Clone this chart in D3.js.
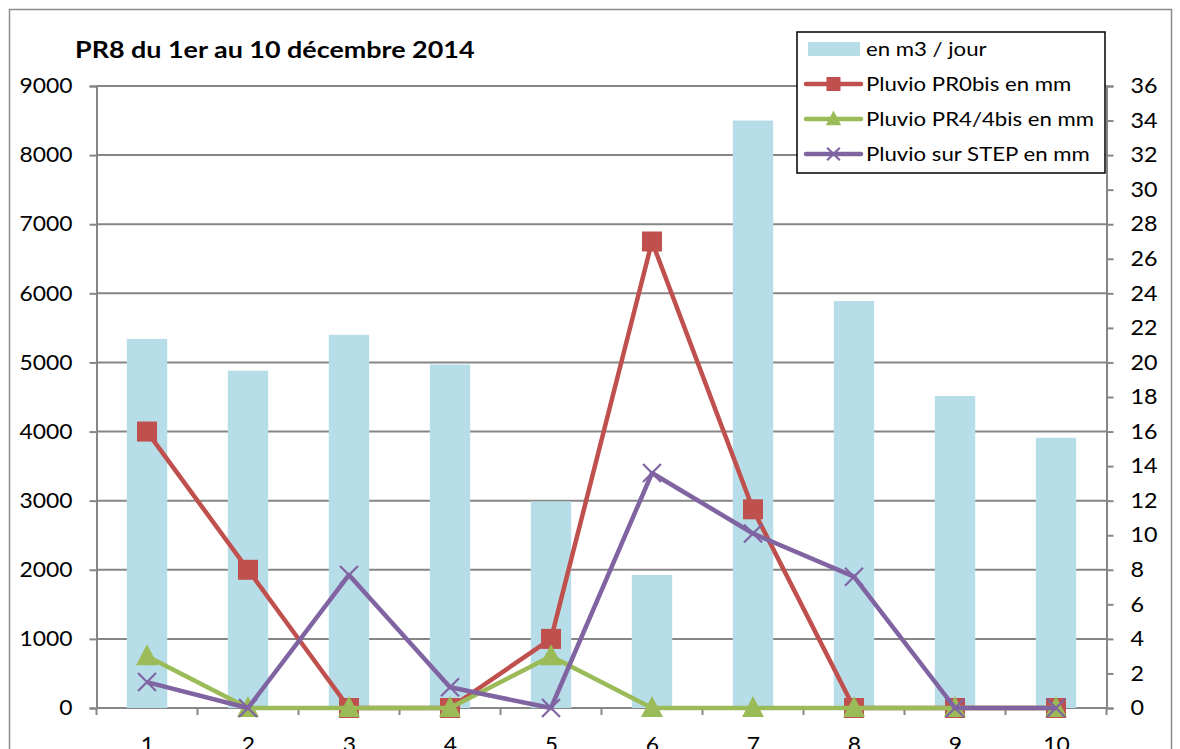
<!DOCTYPE html>
<html>
<head>
<meta charset="utf-8">
<script src="https://cdn.jsdelivr.net/npm/d3@7"></script>
<style>
  html, body { margin: 0; padding: 0; background: #fff; }
  svg { display: block; }
  text { font-family: Lato, "Open Sans", sans-serif; fill: #000; transform-box: fill-box; }
  .wide-l { transform: scaleX(1.11); transform-origin: left; }
  .wide-r { transform: scaleX(1.09); transform-origin: right; }
  .wide-c { transform: scaleX(1.09); transform-origin: center; }
  .wide-t { transform: scaleX(1.17); transform-origin: left; }
</style>
</head>
<body>
<svg id="chart" width="1180" height="749"></svg>
<script>
// Days of December 2014
const days = [1, 2, 3, 4, 5, 6, 7, 8, 9, 10];
// Daily volume (m3 / jour)
const volume = [5340, 4880, 5400, 4970, 2990, 1925, 8500, 5890, 4515, 3910];
// Rainfall (mm)
const pluvioPR0bis = [16, 8, 0, 0, 4, 27, 11.5, 0, 0, 0];
const pluvioPR4 = [3, 0, 0, 0, 3, 0, 0, 0, 0, 0];
const pluvioSTEP = [1.5, 0, 7.7, 1.2, 0, 13.6, 10.1, 7.6, 0, 0];
// Axis ticks
const leftTicks = d3.range(0, 9001, 1000);
const rightTicks = d3.range(0, 37, 2);

const colors = { bar: "#b7dde8", red: "#c0504d", green: "#9bbb59", purple: "#8064a2", grid: "#868686" };

const svg = d3.select("#chart");
const plot = { left: 96.5, right: 1106.5, top: 86, bottom: 708 };

// outer chart frame
svg.append("rect").attr("x", 9.5).attr("y", 9.5).attr("width", 1162).attr("height", 760)
  .attr("fill", "none").attr("stroke", "#8c8c8c").attr("stroke-width", 1.5);

const x = d3.scaleBand().domain(days).range([plot.left, plot.right]).paddingInner(0.6).paddingOuter(0.3);
const xc = d => x(d) + x.bandwidth() / 2;
const yL = d3.scaleLinear().domain([0, 9000]).range([plot.bottom, plot.top]);
const yR = d3.scaleLinear().domain([0, 36]).range([plot.bottom, plot.top]);

// gridlines
svg.append("g").selectAll("line").data(leftTicks).join("line")
  .attr("x1", plot.left).attr("x2", plot.right)
  .attr("y1", d => yL(d)).attr("y2", d => yL(d))
  .attr("stroke", colors.grid).attr("stroke-width", 2);

// left axis
const gL = svg.append("g").attr("transform", `translate(${plot.left},0)`)
  .call(d3.axisLeft(yL).tickValues(leftTicks).tickSize(7).tickPadding(17).tickFormat(d3.format("d")));
gL.select(".domain").attr("stroke", colors.grid).attr("stroke-width", 2);
gL.selectAll(".tick line").attr("stroke", colors.grid).attr("stroke-width", 2);
gL.selectAll("text").attr("class", "wide-r").style("font-size", "21px").style("font-family", "Lato, sans-serif").attr("fill", "#000");

// right axis
const gR = svg.append("g").attr("transform", `translate(${plot.right},0)`)
  .call(d3.axisRight(yR).tickValues(rightTicks).tickSize(7).tickPadding(17));
gR.select(".domain").attr("stroke", colors.grid).attr("stroke-width", 2);
gR.selectAll(".tick line").attr("stroke", colors.grid).attr("stroke-width", 2);
gR.selectAll("text").attr("class", "wide-l").style("font-size", "21px").style("font-family", "Lato, sans-serif").attr("fill", "#000");

// bars
svg.append("g").selectAll("rect").data(days).join("rect")
  .attr("x", d => x(d)).attr("width", x.bandwidth())
  .attr("y", (d, i) => yL(volume[i])).attr("height", (d, i) => yL(0) - yL(volume[i]))
  .attr("fill", colors.bar);

// bottom axis
const xAxisScale = d3.scalePoint().domain(days).range([xc(1), xc(10)]);
const gB = svg.append("g").attr("transform", `translate(0,${plot.bottom})`)
  .call(d3.axisBottom(xAxisScale).tickSize(0).tickPadding(29));
gB.select(".domain").remove();
gB.selectAll("text").attr("class", "wide-c").style("font-size", "21px").style("font-family", "Lato, sans-serif").attr("fill", "#000");
const step = xc(2) - xc(1);
svg.append("g").selectAll("line").data(d3.range(0, 11)).join("line")
  .attr("x1", i => plot.left + i * step).attr("x2", i => plot.left + i * step)
  .attr("y1", plot.bottom).attr("y2", plot.bottom + 7)
  .attr("stroke", colors.grid).attr("stroke-width", 2);

// line series
const series = [
  { name: "Pluvio PR0bis en mm", values: pluvioPR0bis, color: colors.red, marker: "square" },
  { name: "Pluvio PR4/4bis en mm", values: pluvioPR4, color: colors.green, marker: "triangle" },
  { name: "Pluvio sur STEP en mm", values: pluvioSTEP, color: colors.purple, marker: "cross" }
];

function drawMarker(g, type, cx, cy, color, s) {
  if (type === "square") {
    g.append("rect").attr("x", cx - s / 2).attr("y", cy - s / 2).attr("width", s).attr("height", s).attr("fill", color);
  } else if (type === "triangle") {
    g.append("path").attr("d", `M${cx},${cy - s * 0.6}L${cx + s * 0.55},${cy + s * 0.45}L${cx - s * 0.55},${cy + s * 0.45}Z`).attr("fill", color);
  } else {
    const h = s * 0.45;
    g.append("path").attr("d", `M${cx - h},${cy - h}L${cx + h},${cy + h}M${cx - h},${cy + h}L${cx + h},${cy - h}`)
      .attr("stroke", color).attr("stroke-width", 2.2).attr("fill", "none");
  }
}

const lineGen = d3.line().x((d, i) => xc(days[i])).y(d => yR(d));
series.forEach(s => {
  const g = svg.append("g");
  g.append("path").datum(s.values).attr("d", lineGen)
    .attr("fill", "none").attr("stroke", s.color).attr("stroke-width", 4.5).attr("stroke-linejoin", "round");
  s.values.forEach((v, i) => drawMarker(g, s.marker, xc(days[i]), yR(v), s.color, 20));
});

// title
svg.append("text").attr("class", "wide-t").attr("x", 75).attr("y", 58).text("PR8 du 1er au 10 décembre 2014")
  .style("font-size", "23px").style("font-weight", "bold");

// legend
const lg = svg.append("g");
lg.append("rect").attr("x", 797).attr("y", 32).attr("width", 308).attr("height", 141)
  .attr("fill", "#fff").attr("stroke", "#000").attr("stroke-width", 1.5);
const legendRows = [{ name: "en m3 / jour", bar: true }].concat(series);
legendRows.forEach((r, i) => {
  const cy = 49 + i * 35;
  if (r.bar) {
    lg.append("rect").attr("x", 808).attr("y", cy - 7).attr("width", 52).attr("height", 14).attr("fill", colors.bar);
  } else {
    lg.append("line").attr("x1", 806).attr("x2", 861).attr("y1", cy).attr("y2", cy)
      .attr("stroke", r.color).attr("stroke-width", 4.5).attr("stroke-linecap", "round");
    drawMarker(lg, r.marker, 833.5, cy, r.color, 14);
  }
  lg.append("text").attr("class", "wide-l").attr("x", 866).attr("y", cy + 7).text(r.name).style("font-size", "20px");
});
</script>
</body>
</html>
